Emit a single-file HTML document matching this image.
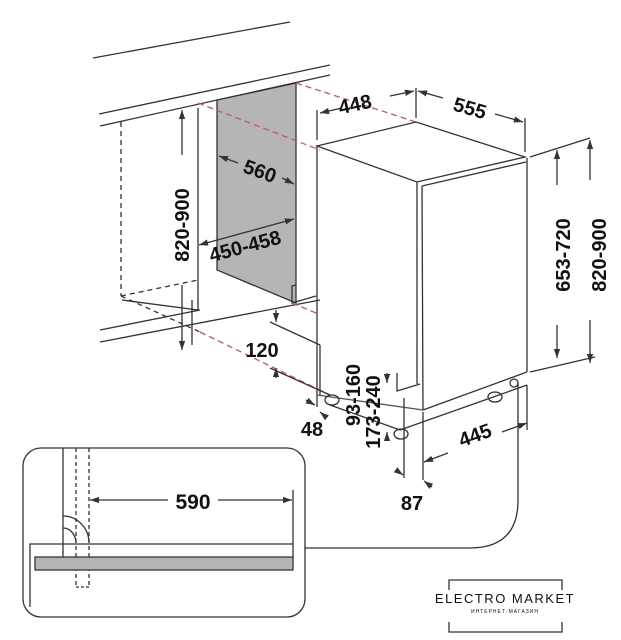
<!DOCTYPE html>
<html><head><meta charset="utf-8"><style>
html,body{margin:0;padding:0;background:#fff;width:621px;height:640px;overflow:hidden}
svg text{font-family:"Liberation Sans",sans-serif;font-weight:bold;fill:#111}
</style></head><body>
<svg width="621" height="640" viewBox="0 0 621 640" xmlns="http://www.w3.org/2000/svg">
<defs><marker id="a" viewBox="0 0 10 10" refX="10" refY="5" markerWidth="7" markerHeight="7" orient="auto-start-reverse"><path d="M0,1.5L10,5L0,8.5z" fill="#333"/></marker></defs>
<g stroke="#333" stroke-width="1.3" fill="none">
<line x1="93" y1="58" x2="290" y2="22"/>
<line x1="99" y1="114" x2="330" y2="65"/>
<line x1="100" y1="126" x2="330" y2="75"/>
<line x1="100" y1="342" x2="320" y2="300"/>
<line x1="100" y1="330" x2="200" y2="310"/>
<polygon points="217,100 296,83 296,303 217,270" fill="#b5b5b5"/>
<polyline points="198,108 198,310 122,300"/>
<polyline points="296,285 292,286 292,303 316,296"/>
<line x1="121" y1="122" x2="121" y2="296" stroke-dasharray="5,4"/>
<line x1="121" y1="296" x2="198" y2="280" stroke-dasharray="5,4"/>
<line x1="121" y1="296" x2="200" y2="332" stroke-dasharray="5,4"/>
<line x1="198" y1="103" x2="320" y2="150" stroke="#c55" stroke-dasharray="6,4"/>
<line x1="296" y1="83" x2="416" y2="122" stroke="#c55" stroke-dasharray="6,4"/>
<line x1="200" y1="332" x2="330" y2="395" stroke="#c55" stroke-dasharray="6,4"/>
<line x1="292" y1="303" x2="316" y2="313" stroke="#c55" stroke-dasharray="6,4"/>
<polygon points="317,146 416,122 525,157 417,182"/>
<line x1="422" y1="186" x2="526" y2="162"/>
<line x1="317" y1="146" x2="317" y2="407"/>
<line x1="417" y1="182" x2="417" y2="384"/>
<line x1="422" y1="186" x2="423" y2="410"/>
<line x1="527" y1="158" x2="527" y2="372"/>
<line x1="423" y1="410" x2="527" y2="372"/>
<polyline points="397,373 397,391 420,384"/>
<line x1="317" y1="395" x2="423" y2="410" stroke="#555"/>
<line x1="330" y1="405" x2="400" y2="430"/>
<line x1="400" y1="430" x2="527" y2="385"/>
<ellipse cx="332" cy="400" rx="7" ry="5"/>
<ellipse cx="401" cy="434" rx="7" ry="5"/>
<ellipse cx="495" cy="397" rx="7" ry="5"/>
<circle cx="514" cy="383" r="4"/>
<line x1="317" y1="140" x2="317" y2="110"/>
<line x1="416" y1="118" x2="416" y2="88"/>
<line x1="525" y1="152" x2="525" y2="118"/>
<line x1="320" y1="113" x2="342" y2="108" marker-start="url(#a)"/>
<line x1="390" y1="96" x2="414" y2="91" marker-end="url(#a)"/>
<line x1="418" y1="91" x2="443" y2="98" marker-start="url(#a)"/>
<line x1="495" y1="114" x2="523" y2="122" marker-end="url(#a)"/>
<line x1="530" y1="157" x2="590" y2="138"/>
<line x1="530" y1="372" x2="595" y2="357"/>
<line x1="557" y1="150" x2="557" y2="185" marker-start="url(#a)"/>
<line x1="557" y1="325" x2="557" y2="358" marker-end="url(#a)"/>
<line x1="590" y1="140" x2="590" y2="180" marker-start="url(#a)"/>
<line x1="590" y1="320" x2="590" y2="363" marker-end="url(#a)"/>
<line x1="182" y1="110" x2="182" y2="155" marker-start="url(#a)"/>
<line x1="182" y1="285" x2="182" y2="350" marker-end="url(#a)"/>
<line x1="219" y1="156" x2="238" y2="163" marker-start="url(#a)"/>
<line x1="282" y1="178" x2="294" y2="184" marker-end="url(#a)"/>
<line x1="199" y1="245" x2="294" y2="219" marker-start="url(#a)" marker-end="url(#a)"/>
<line x1="192" y1="300" x2="192" y2="345"/>
<line x1="276" y1="310" x2="276" y2="322" marker-end="url(#a)"/>
<line x1="276" y1="378" x2="276" y2="368" marker-end="url(#a)"/>
<line x1="270" y1="322" x2="320" y2="345"/>
<line x1="270" y1="368" x2="330" y2="395"/>
<line x1="320" y1="345" x2="320" y2="395"/>
<line x1="306" y1="400" x2="315" y2="405" marker-end="url(#a)"/>
<line x1="326" y1="417" x2="320" y2="412" marker-end="url(#a)"/>
<line x1="387" y1="373" x2="387" y2="383" marker-end="url(#a)"/>
<line x1="387" y1="440" x2="387" y2="432" marker-end="url(#a)"/>
<line x1="404" y1="398" x2="404" y2="478"/>
<line x1="423" y1="412" x2="423" y2="480"/>
<line x1="396" y1="470" x2="403" y2="475" marker-end="url(#a)"/>
<line x1="432" y1="487" x2="424" y2="481" marker-end="url(#a)"/>
<line x1="424" y1="462" x2="448" y2="453" marker-start="url(#a)"/>
<line x1="502" y1="432" x2="527" y2="423" marker-end="url(#a)"/>
<line x1="527" y1="385" x2="527" y2="430"/>
<!-- inset -->
<rect x="23" y="448" width="282" height="169" rx="18"/>
<path d="M305,548 H470 Q518,548 518,500 V383"/>
<line x1="63" y1="448" x2="63" y2="557"/>
<line x1="76" y1="448" x2="76" y2="587" stroke-dasharray="4,3"/>
<line x1="89" y1="448" x2="89" y2="587" stroke-dasharray="4,3"/>
<line x1="76" y1="587" x2="89" y2="587" stroke-dasharray="3,2"/>
<path d="M63,516 A26,27 0 0 1 89,543"/>
<path d="M63,528 A13,15 0 0 1 76,543"/>
<polyline points="30,607 30,544 293,544 293,557"/>
<rect x="35" y="557" width="258" height="13" fill="#b5b5b5"/>
<line x1="293" y1="490" x2="293" y2="544"/>
<line x1="90" y1="500" x2="168" y2="500" marker-start="url(#a)"/>
<line x1="218" y1="500" x2="292" y2="500" marker-end="url(#a)"/>
<polyline points="449,590 449,580 562,580 562,590"/>
<polyline points="449,622 449,632 562,632 562,622"/>
</g>
<text x="193" y="509" font-size="21" text-anchor="middle">590</text>
<text x="355" y="111" font-size="20" text-anchor="middle" transform="rotate(-12 355 104)">448</text>
<text x="470" y="115" font-size="20" text-anchor="middle" transform="rotate(16 470 108)">555</text>
<text x="0" y="0" font-size="20" text-anchor="middle" transform="translate(570 255) rotate(-90)">653-720</text>
<text x="0" y="0" font-size="20" text-anchor="middle" transform="translate(606 255) rotate(-90)">820-900</text>
<text x="0" y="0" font-size="20" text-anchor="middle" transform="translate(189 225) rotate(-90)">820-900</text>
<text x="260" y="178" font-size="20" text-anchor="middle" transform="rotate(20 260 171)">560</text>
<text x="245" y="253" font-size="20" text-anchor="middle" transform="rotate(-15 245 246)">450-458</text>
<text x="262" y="357" font-size="20" text-anchor="middle">120</text>
<text x="312" y="436" font-size="20" text-anchor="middle">48</text>
<text x="0" y="0" font-size="20" text-anchor="middle" transform="translate(360 395) rotate(-90)">93-160</text>
<text x="0" y="0" font-size="20" text-anchor="middle" transform="translate(380 412) rotate(-90)">173-240</text>
<text x="475" y="442" font-size="20" text-anchor="middle" transform="rotate(-20 475 435)">445</text>
<text x="412" y="510" font-size="20" text-anchor="middle">87</text>
<text x="505" y="603" font-size="13" text-anchor="middle" letter-spacing="1.5" style="font-weight:normal">ELECTRO MARKET</text>
<text x="505" y="613" font-size="5" text-anchor="middle" letter-spacing="1" style="font-weight:normal">ИНТЕРНЕТ-МАГАЗИН</text>
</svg>
</body></html>
